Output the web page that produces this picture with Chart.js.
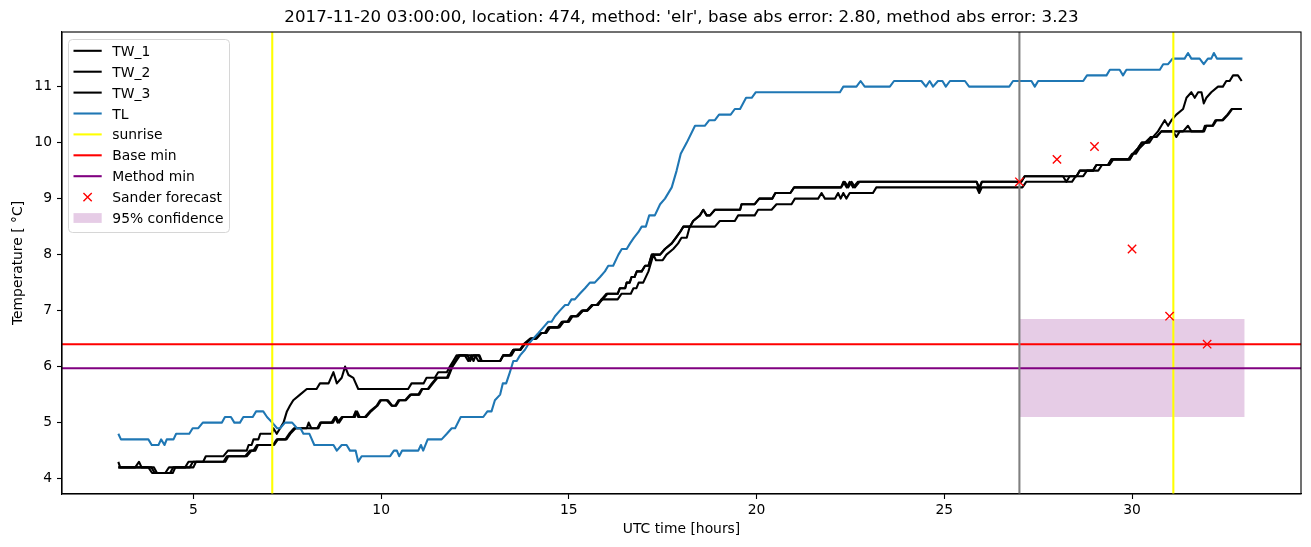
<!DOCTYPE html>
<html>
<head>
<meta charset="utf-8">
<script src="https://cdn.jsdelivr.net/npm/chart.js@4.4.1/dist/chart.umd.min.js"></script>
<style>
  html, body { margin: 0; padding: 0; background: #fff; }
  #wrap { width: 1311px; height: 547px; }
</style>
</head>
<body>
<div id="wrap"><canvas id="chart" width="1311" height="547"></canvas></div>
<script>
// ---- values: [UTC hour, temperature] ----
const titleText = "2017-11-20 03:00:00, location: 474, method: 'elr', base abs error: 2.80, method abs error: 3.23";

const tw1 = [[3.00,4.3],[3.05,4.2],[3.45,4.2],[3.55,4.3],[3.62,4.2],[3.80,4.2],[3.90,4.1],[4.25,4.1],[4.35,4.2],
  [4.78,4.2],[4.87,4.3],[5.26,4.3],[5.33,4.4],[5.80,4.4],[5.92,4.5],[6.42,4.5],[6.47,4.6],[6.55,4.6],[6.60,4.7],
  [6.73,4.7],[6.78,4.8],[7.09,4.8],[7.13,4.9],[7.22,4.8],[7.40,5.0],[7.49,5.2],[7.57,5.3],[7.66,5.4],[7.84,5.5],
  [8.02,5.6],[8.28,5.6],[8.37,5.7],[8.60,5.7],[8.73,5.9],[8.82,5.7],[8.95,5.8],[9.04,6.0],[9.13,5.85],[9.26,5.8],
  [9.39,5.6],[10.72,5.6],[10.81,5.7],[11.13,5.7],[11.21,5.8],[11.43,5.8],[11.52,5.9],[11.75,5.9],[11.83,6.0],
  [11.92,6.1],[12.01,6.2],[12.23,6.2],[12.32,6.1],[12.41,6.2],[12.50,6.2],[12.59,6.1],[13.17,6.1],[13.25,6.2],
  [13.43,6.2],[13.52,6.3],[13.70,6.3],[13.79,6.4],[13.97,6.5],[14.10,6.5],[14.23,6.6],[14.36,6.6],[14.45,6.7],
  [14.72,6.7],[14.83,6.8],[14.98,6.8],[15.07,6.9],[15.20,6.9],[15.34,7.0],[15.47,7.0],[15.61,7.1],[15.74,7.1],
  [15.87,7.2],[16.00,7.3],[16.30,7.3],[16.36,7.4],[16.50,7.4],[16.54,7.5],[16.62,7.5],[16.67,7.6],[16.75,7.6],
  [16.81,7.7],[16.94,7.7],[17.03,7.8],[17.12,7.8],[17.21,8.0],[17.43,8.0],[17.56,8.1],[17.74,8.2],[17.85,8.3],
  [17.96,8.4],[18.05,8.5],[18.23,8.5],[18.31,8.6],[18.49,8.7],[18.58,8.8],[18.67,8.7],[18.76,8.7],[18.89,8.8],
  [19.56,8.8],[19.60,8.9],[19.95,8.9],[20.07,9.0],[20.42,9.0],[20.50,9.1],[20.90,9.1],[21.00,9.2],[22.25,9.2],
  [22.31,9.3],[22.40,9.2],[22.48,9.3],[22.57,9.2],[22.70,9.3],[25.86,9.3],[25.93,9.2],[26.00,9.3],[27.05,9.3],
  [27.14,9.4],[28.52,9.4],[28.61,9.5],[28.96,9.5],[29.05,9.6],[29.36,9.6],[29.45,9.7],[29.94,9.7],[30.03,9.8],
  [30.16,9.9],[30.26,10.0],[30.46,10.0],[30.56,10.1],[30.69,10.2],[30.78,10.3],[30.87,10.4],[30.96,10.3],
  [31.05,10.4],[31.18,10.5],[31.36,10.6],[31.45,10.8],[31.58,10.9],[31.67,10.8],[31.76,10.9],[31.85,10.9],
  [31.91,10.7],[31.98,10.8],[32.11,10.9],[32.29,11.0],[32.42,11.0],[32.51,11.1],[32.60,11.1],[32.69,11.2],
  [32.82,11.2],[32.92,11.1]];

const tw2 = [[3.00,4.2],[3.88,4.2],[3.97,4.1],[4.38,4.1],[4.46,4.2],[4.90,4.2],[4.99,4.3],[5.80,4.3],[5.89,4.4],
  [6.38,4.4],[6.50,4.5],[6.60,4.5],[6.69,4.6],[7.12,4.6],[7.22,4.7],[7.45,4.7],[7.55,4.8],[7.68,4.9],[8.02,4.9],
  [8.07,5.0],[8.14,4.9],[8.33,4.9],[8.40,5.0],[8.68,5.0],[8.77,5.1],[8.84,5.0],[8.95,5.1],[9.26,5.1],[9.32,5.2],
  [9.39,5.1],[9.57,5.1],[9.70,5.2],[9.88,5.3],[9.97,5.4],[10.15,5.4],[10.28,5.3],[10.37,5.3],[10.46,5.4],
  [10.64,5.4],[10.77,5.5],[10.99,5.5],[11.08,5.6],[11.24,5.6],[11.35,5.7],[11.48,5.8],[11.75,5.8],[11.88,6.0],
  [11.97,6.1],[12.07,6.2],[12.30,6.2],[12.37,6.1],[12.45,6.2],[12.62,6.2],[12.68,6.1],[13.17,6.1],[13.25,6.2],
  [13.47,6.2],[13.56,6.3],[13.70,6.3],[13.83,6.4],[14.00,6.5],[14.12,6.5],[14.26,6.6],[14.38,6.6],[14.48,6.7],
  [14.75,6.7],[14.86,6.8],[15.00,6.8],[15.10,6.9],[15.22,6.9],[15.37,7.0],[15.49,7.0],[15.63,7.1],[15.76,7.1],
  [15.90,7.2],[16.03,7.3],[16.30,7.3],[16.36,7.4],[16.50,7.4],[16.54,7.5],[16.62,7.5],[16.67,7.6],[16.75,7.6],
  [16.81,7.7],[16.94,7.7],[17.03,7.8],[17.12,7.8],[17.21,8.0],[17.43,8.0],[17.56,8.1],[17.74,8.2],[17.85,8.3],
  [17.96,8.4],[18.05,8.5],[18.23,8.5],[18.31,8.6],[18.49,8.7],[18.58,8.8],[18.67,8.7],[18.76,8.7],[18.89,8.8],
  [19.56,8.8],[19.60,8.9],[19.95,8.9],[20.07,9.0],[20.42,9.0],[20.50,9.1],[20.90,9.1],[21.00,9.2],[22.25,9.2],
  [22.35,9.3],[22.44,9.2],[22.53,9.3],[22.62,9.2],[22.74,9.3],[25.86,9.3],[25.93,9.15],[26.00,9.3],[27.05,9.3],
  [27.14,9.4],[28.16,9.4],[28.25,9.3],[28.34,9.4],[28.52,9.4],[28.61,9.5],[28.96,9.5],[29.05,9.6],[29.36,9.6],
  [29.45,9.7],[29.94,9.7],[30.03,9.8],[30.16,9.9],[30.26,10.0],[30.40,10.0],[30.50,10.1],[30.65,10.1],
  [30.78,10.2],[31.36,10.2],[31.49,10.3],[31.58,10.2],[31.89,10.2],[31.94,10.3],[32.16,10.3],[32.25,10.4],
  [32.42,10.4],[32.56,10.5],[32.67,10.6],[32.92,10.6]];

const tw3 = [[3.00,4.2],[3.95,4.2],[4.03,4.1],[4.45,4.1],[4.52,4.2],[5.00,4.2],[5.07,4.3],[5.85,4.3],[5.93,4.4],
  [6.42,4.4],[6.55,4.5],[6.65,4.5],[6.72,4.6],[7.15,4.6],[7.25,4.7],[7.48,4.7],[7.58,4.8],[7.72,4.9],[8.30,4.9],
  [8.38,5.0],[8.72,5.0],[8.80,5.1],[8.88,5.0],[8.98,5.1],[9.30,5.1],[9.36,5.2],[9.43,5.1],[9.60,5.1],[9.73,5.2],
  [9.90,5.3],[10.00,5.4],[10.18,5.4],[10.30,5.3],[10.40,5.3],[10.49,5.4],[10.66,5.4],[10.80,5.5],[11.02,5.5],
  [11.10,5.6],[11.26,5.6],[11.38,5.7],[11.50,5.8],[11.78,5.8],[11.90,6.0],[12.00,6.1],[12.10,6.2],[12.40,6.2],
  [12.46,6.1],[12.52,6.2],[12.60,6.2],[12.66,6.1],[13.17,6.1],[13.25,6.2],[13.43,6.2],[13.52,6.3],[13.72,6.3],
  [13.81,6.4],[13.99,6.5],[14.14,6.5],[14.27,6.6],[14.40,6.6],[14.50,6.7],[14.70,6.7],[14.81,6.8],[14.96,6.8],
  [15.05,6.9],[15.24,6.9],[15.38,7.0],[15.50,7.0],[15.64,7.1],[15.78,7.1],[15.87,7.2],[16.30,7.2],[16.40,7.3],
  [16.65,7.3],[16.72,7.4],[16.80,7.4],[16.86,7.5],[16.98,7.5],[17.12,7.7],[17.25,8.0],[17.32,7.9],[17.50,7.9],
  [17.60,8.0],[17.78,8.1],[17.91,8.2],[18.00,8.3],[18.14,8.3],[18.22,8.5],[18.89,8.5],[19.02,8.6],[19.42,8.6],
  [19.51,8.7],[19.95,8.7],[20.04,8.8],[20.40,8.8],[20.53,8.9],[20.93,8.9],[21.02,9.0],[21.64,9.0],[21.73,9.1],
  [21.82,9.0],[22.09,9.0],[22.17,9.1],[22.24,9.0],[22.31,9.1],[22.39,9.0],[22.48,9.1],[23.10,9.1],[23.19,9.2],
  [25.86,9.2],[25.93,9.1],[26.00,9.2],[27.08,9.2],[27.18,9.3],[28.40,9.3],[28.50,9.4],[28.70,9.4],[28.80,9.5],
  [29.10,9.5],[29.20,9.6],[29.40,9.6],[29.50,9.7],[29.90,9.7],[30.00,9.8],[30.10,9.8],[30.20,9.9],[30.35,10.0],
  [30.50,10.1],[30.65,10.1],[30.78,10.2],[31.09,10.2],[31.18,10.1],[31.27,10.2],[31.92,10.2],[31.98,10.3],
  [32.14,10.3],[32.22,10.4],[32.40,10.4],[32.54,10.5],[32.65,10.6],[32.92,10.6]];

const tl = [[3.00,4.8],[3.07,4.7],[3.80,4.7],[3.89,4.6],[4.07,4.6],[4.14,4.7],[4.23,4.6],[4.29,4.7],[4.47,4.7],
  [4.54,4.8],[4.89,4.8],[4.98,4.9],[5.13,4.9],[5.25,5.0],[5.76,5.0],[5.84,5.1],[6.00,5.1],[6.09,5.0],[6.24,5.0],
  [6.33,5.1],[6.58,5.1],[6.67,5.2],[6.86,5.2],[6.96,5.1],[7.10,5.0],[7.23,4.9],[7.31,4.9],[7.44,5.0],[7.63,5.0],
  [7.76,4.9],[7.85,4.9],[7.93,4.8],[8.09,4.8],[8.22,4.6],[8.73,4.6],[8.82,4.5],[8.95,4.6],[9.08,4.6],[9.17,4.5],
  [9.32,4.5],[9.39,4.3],[9.48,4.4],[10.24,4.4],[10.34,4.5],[10.42,4.5],[10.48,4.4],[10.56,4.5],[10.99,4.5],
  [11.06,4.6],[11.12,4.5],[11.24,4.7],[11.61,4.7],[11.75,4.8],[11.88,4.9],[11.97,4.9],[12.12,5.1],[12.72,5.1],
  [12.83,5.2],[12.94,5.2],[13.03,5.4],[13.17,5.5],[13.24,5.7],[13.33,5.7],[13.43,5.9],[13.52,6.1],[13.61,6.1],
  [13.70,6.2],[13.83,6.3],[13.92,6.4],[14.05,6.5],[14.19,6.6],[14.32,6.7],[14.45,6.8],[14.54,6.8],[14.63,6.9],
  [14.76,7.0],[14.90,7.1],[14.98,7.1],[15.07,7.2],[15.16,7.2],[15.29,7.3],[15.43,7.4],[15.56,7.5],[15.69,7.5],
  [15.83,7.6],[15.96,7.7],[16.05,7.8],[16.18,7.8],[16.32,8.0],[16.41,8.1],[16.54,8.1],[16.63,8.2],[16.73,8.3],
  [16.85,8.4],[16.94,8.5],[17.05,8.5],[17.14,8.7],[17.29,8.7],[17.43,8.9],[17.56,9.0],[17.74,9.2],[17.87,9.5],
  [17.98,9.8],[18.14,10.0],[18.36,10.3],[18.62,10.3],[18.74,10.4],[18.89,10.4],[19.00,10.5],[19.31,10.5],
  [19.42,10.6],[19.56,10.6],[19.72,10.8],[19.87,10.8],[19.98,10.9],[22.22,10.9],[22.31,11.0],[22.66,11.0],
  [22.77,11.1],[22.88,11.0],[23.55,11.0],[23.66,11.1],[24.39,11.1],[24.51,11.0],[24.61,11.1],[24.70,11.0],
  [24.83,11.1],[24.95,11.1],[25.04,11.0],[25.15,11.1],[25.55,11.1],[25.66,11.0],[26.73,11.0],[26.83,11.1],
  [27.32,11.1],[27.41,11.0],[27.50,11.1],[28.70,11.1],[28.80,11.2],[29.32,11.2],[29.41,11.3],[29.67,11.3],
  [29.76,11.2],[29.85,11.3],[30.74,11.3],[30.83,11.4],[30.96,11.4],[31.08,11.5],[31.40,11.5],[31.49,11.6],
  [31.58,11.5],[31.80,11.5],[31.91,11.4],[32.02,11.5],[32.11,11.5],[32.18,11.6],[32.26,11.5],[32.94,11.5]];

const sunriseHours = [7.1, 31.1];
const nowHour = 27;
const baseMin = 6.4;
const methodMin = 5.97;
const sanderHours = [27, 28, 29, 30, 31, 32];
const sanderTemps = [9.3, 9.7, 9.93, 8.1, 6.9, 6.4];
const confHours = [27, 33];
const confLow = 5.1;
const confHigh = 6.85;

const xTicks = [5, 10, 15, 20, 25, 30];
const yTicks = [4, 5, 6, 7, 8, 9, 10, 11];
const legendLabels = ['TW_1', 'TW_2', 'TW_3', 'TL', 'sunrise', 'Base min', 'Method min', 'Sander forecast', '95% confidence'];

// ---- axis limits like matplotlib autoscale (5% margins) ----
const series = [tw1, tw2, tw3, tl];
const allX = series.flat().map(p => p[0]).concat(confHours, sanderHours);
const allY = series.flat().map(p => p[1]).concat(sanderTemps, [confLow, confHigh]);
function withMargin(vals) {
  const lo = Math.min(...vals), hi = Math.max(...vals), m = (hi - lo) * 0.05;
  return [lo - m, hi + m];
}
const [xMin, xMax] = withMargin(allX);
const [yMin, yMax] = withMargin(allY);

const FONT = 'DejaVu Sans';
const LW = 2.08; // 1.5pt at 100 dpi
const toXY = s => s.map(p => ({ x: p[0], y: p[1] }));

function lineSet(label, data, color, order) {
  return { label, data, borderColor: color, backgroundColor: color, borderWidth: LW,
    pointRadius: 0, borderJoinStyle: 'round', order, legendKind: 'line' };
}

const sunriseData = [];
sunriseHours.forEach((h, i) => {
  if (i > 0) sunriseData.push({ x: h - 0.01, y: null });
  sunriseData.push({ x: h, y: yMin }, { x: h, y: yMax });
});

const datasets = [
  lineSet(legendLabels[0], toXY(tw1), '#000000', 12),
  lineSet(legendLabels[1], toXY(tw2), '#000000', 11),
  lineSet(legendLabels[2], toXY(tw3), '#000000', 10),
  lineSet(legendLabels[3], toXY(tl), '#1f77b4', 9),
  lineSet(legendLabels[4], sunriseData, '#ffff00', 8),
  lineSet(legendLabels[5], [{ x: xMin, y: baseMin }, { x: xMax, y: baseMin }], '#ff0000', 7),
  lineSet(legendLabels[6], [{ x: xMin, y: methodMin }, { x: xMax, y: methodMin }], '#800080', 6),
  Object.assign(lineSet('', [{ x: nowHour, y: yMin }, { x: nowHour, y: yMax }], '#808080', 5), { legendKind: null }),
  {
    label: legendLabels[7], legendKind: 'marker', order: 1,
    data: sanderHours.map((h, i) => ({ x: h, y: sanderTemps[i] })),
    showLine: false, pointStyle: 'crossRot', pointRadius: 5.9,
    pointBorderColor: '#ff0000', pointBorderWidth: 1.39, borderColor: '#ff0000', backgroundColor: '#ff0000'
  },
  {
    label: legendLabels[8], legendKind: 'patch', order: 20,
    data: confHours.map(h => ({ x: h, y: confHigh })),
    borderWidth: 0, borderColor: 'rgba(0,0,0,0)', pointRadius: 0,
    backgroundColor: 'rgba(128,0,128,0.2)', fill: { value: confLow }
  }
];

// frame on all four sides + matplotlib-like legend box
const frameAndLegend = {
  id: 'frameAndLegend',
  afterDraw(chart) {
    const ctx = chart.ctx, a = chart.chartArea;
    ctx.save();
    ctx.strokeStyle = '#000';
    ctx.lineWidth = 1.11;
    ctx.strokeRect(a.left, a.top, a.right - a.left, a.bottom - a.top);

    const items = chart.data.datasets.filter(d => d.legendKind);
    const bx = a.left + 6.5, by = a.top + 7.5, bw = 161, bh = 193;
    ctx.beginPath();
    ctx.roundRect(bx, by, bw, bh, 4);
    ctx.fillStyle = 'rgba(255,255,255,0.8)';
    ctx.fill();
    ctx.strokeStyle = '#d6d6d6';
    ctx.lineWidth = 1;
    ctx.stroke();

    ctx.font = '13.89px "' + FONT + '"';
    ctx.textBaseline = 'alphabetic';
    ctx.textAlign = 'left';
    const x0 = a.left + 11.5, x1 = a.left + 39.7, tx = a.left + 50.3;
    items.forEach((d, i) => {
      const cy = a.top + 18.8 + i * 20.9;
      if (d.legendKind === 'line') {
        ctx.strokeStyle = d.borderColor;
        ctx.lineWidth = LW;
        ctx.beginPath(); ctx.moveTo(x0, cy); ctx.lineTo(x1, cy); ctx.stroke();
      } else if (d.legendKind === 'marker') {
        const cx = (x0 + x1) / 2, r = 4.15;
        ctx.strokeStyle = d.pointBorderColor;
        ctx.lineWidth = d.pointBorderWidth;
        ctx.beginPath();
        ctx.moveTo(cx - r, cy - r); ctx.lineTo(cx + r, cy + r);
        ctx.moveTo(cx - r, cy + r); ctx.lineTo(cx + r, cy - r);
        ctx.stroke();
      } else if (d.legendKind === 'patch') {
        ctx.fillStyle = d.backgroundColor;
        ctx.fillRect(x0, cy - 4.9, x1 - x0, 9.8);
      }
      ctx.fillStyle = '#000';
      ctx.fillText(d.label, tx, cy + 5);
    });
    ctx.restore();
  }
};

const tickFont = { family: FONT, size: 13.89 };

new Chart(document.getElementById('chart'), {
  type: 'line',
  data: { datasets },
  plugins: [frameAndLegend],
  options: {
    responsive: false,
    animation: false,
    events: [],
    devicePixelRatio: 1,
    layout: { padding: { left: 0, right: 10, top: 0, bottom: 0 } },
    plugins: {
      legend: { display: false },
      tooltip: { enabled: false },
      title: {
        display: true, text: titleText, color: '#000', fullSize: false,
        font: { family: FONT, size: 16.67, weight: 'normal' },
        padding: { top: 8, bottom: 4 }
      }
    },
    scales: {
      x: {
        type: 'linear', min: xMin, max: xMax,
        afterBuildTicks: s => { s.ticks = xTicks.map(v => ({ value: v })); },
        afterFit: s => { s.height = 53; },
        ticks: { color: '#000', font: tickFont, padding: 3, maxRotation: 0 },
        grid: { drawOnChartArea: false, drawTicks: true, tickLength: 5, tickWidth: 1.11, tickColor: '#000' },
        border: { display: true, color: '#000', width: 1.11 },
        title: { display: true, text: 'UTC time [hours]', color: '#000', font: tickFont, padding: { top: 0, bottom: 9.5 } }
      },
      y: {
        type: 'linear', min: yMin, max: yMax,
        afterBuildTicks: s => { s.ticks = yTicks.map(v => ({ value: v })); },
        afterFit: s => { s.width = 62; },
        ticks: { color: '#000', font: tickFont, padding: 5 },
        grid: { drawOnChartArea: false, drawTicks: true, tickLength: 5, tickWidth: 1.11, tickColor: '#000' },
        border: { display: true, color: '#000', width: 1.11 },
        title: { display: true, text: 'Temperature [ °C]', color: '#000', font: tickFont, padding: { top: 9.7, bottom: 0 } }
      }
    }
  }
});
</script>
</body>
</html>
